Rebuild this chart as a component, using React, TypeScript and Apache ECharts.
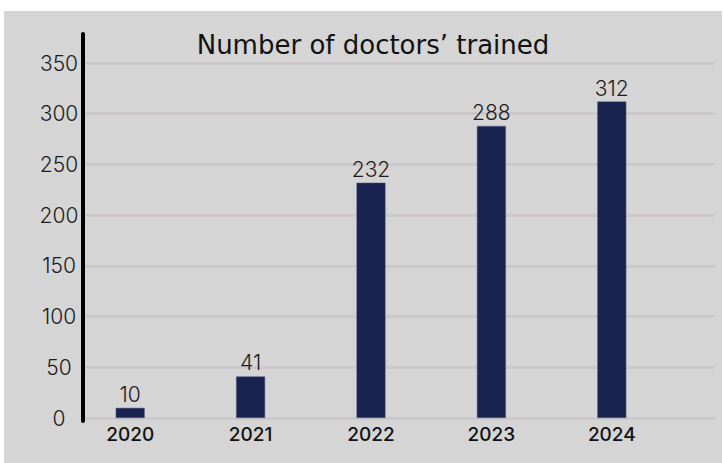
import React, { useEffect, useRef } from "react";
import * as echarts from "echarts";

const categories = ["2020", "2021", "2022", "2023", "2024"];
const doctorsTrained = [10, 41, 232, 288, 312];
const yTicks = [0, 50, 100, 150, 200, 250, 300, 350];
const titleText = "Number of doctors’ trained";

export default function App() {
  const ref = useRef<HTMLDivElement>(null);

  useEffect(() => {
    if (!ref.current) return;
    const chart = echarts.init(ref.current, undefined, { renderer: "svg" });
    const yMin = yTicks[0];
    const yMax = yTicks[yTicks.length - 1];
    const yInterval = yTicks[1] - yTicks[0];
    chart.setOption({
      animation: false,
      backgroundColor: "#d4d5d4",
      graphic: [
        {
          type: "text",
          x: 369,
          y: 34,
          style: {
            text: titleText,
            textAlign: "center",
            textVerticalAlign: "middle",
            fontFamily: "DejaVu Sans, sans-serif",
            fontSize: 26,
            fontWeight: "normal",
            fill: "#111111",
          },
        },
      ],
      grid: [
        { left: 79, right: 7, top: 52, bottom: 45 },
        { left: 66, right: 50, top: 52, bottom: 45 },
        { left: 79, right: 7, top: 23, bottom: 42 },
      ],
      xAxis: [
        { type: "value", gridIndex: 0, show: false },
        {
          type: "category",
          gridIndex: 1,
          data: categories,
          axisLine: { show: false },
          axisTick: { show: false },
          axisLabel: {
            margin: 7,
            fontFamily: "Inter, sans-serif",
            fontSize: 19,
            fontWeight: 500,
            color: "#111111",
          },
        },
        { type: "value", gridIndex: 2, show: false },
      ],
      yAxis: [
        {
          type: "value",
          gridIndex: 0,
          min: yMin,
          max: yMax,
          interval: yInterval,
          axisLine: { show: false },
          axisTick: { show: false },
          axisLabel: {
            margin: 24,
            align: "center",
            padding: [0, 0, 12, 0],
            fontFamily: "Inter, sans-serif",
            fontSize: 21,
            fontWeight: 300,
            color: "#1c1c1c",
          },
          splitLine: { lineStyle: { color: "#ccc8ca", width: 3 } },
        },
        {
          type: "value",
          gridIndex: 1,
          min: yMin,
          max: yMax,
          interval: yInterval,
          show: false,
          splitLine: { show: false },
        },
        {
          type: "value",
          gridIndex: 2,
          min: 0,
          max: 1,
          axisLine: { show: true, lineStyle: { color: "#000000", width: 4 } },
          axisTick: { show: false },
          axisLabel: { show: false },
          splitLine: { show: false },
        },
      ],
      series: [
        {
          type: "bar",
          xAxisIndex: 1,
          yAxisIndex: 1,
          data: doctorsTrained,
          barWidth: 29,
          itemStyle: { color: "#19234f", borderColor: "#5a5f80", borderWidth: 0.5 },
          label: {
            show: true,
            position: "top",
            distance: 3,
            fontFamily: "Inter, sans-serif",
            fontSize: 21,
            fontWeight: 300,
            color: "#1c1c1c",
          },
        },
      ],
    });
    return () => chart.dispose();
  }, []);

  return (
    <div
      style={{
        position: "fixed",
        left: 0,
        top: 0,
        width: 723,
        height: 463,
        background: "#ffffff",
      }}
    >
      <div
        ref={ref}
        style={{ position: "absolute", left: 4, top: 11, width: 718, height: 452 }}
      />
    </div>
  );
}
